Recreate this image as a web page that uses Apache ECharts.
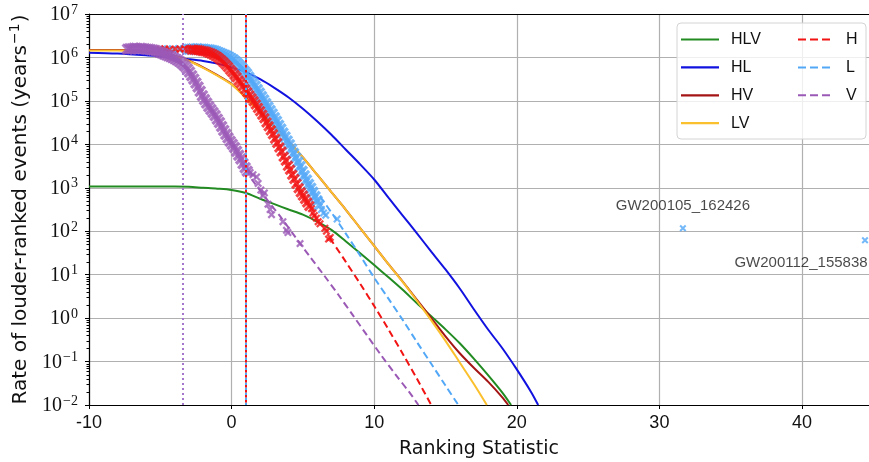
<!DOCTYPE html>
<html>
<head>
<meta charset="utf-8">
<script src="https://cdn.jsdelivr.net/npm/echarts@6/dist/echarts.min.js"></script>
<style>
  html, body { margin: 0; padding: 0; background: #fff; }
  #chart { width: 869px; height: 462px; }
</style>
</head>
<body>
<div id="chart"></div>
<script>
// Axis ranges and tick labels
const xRange = [-10, 44.7];
const xTicks = [-10, 0, 10, 20, 30, 40];
const yRange = [1e-2, 1e7];

// Background-rate fits per detector network: [ranking statistic, rate (1/yr)]
const hlvRate = [[-10,1070],[-6,1070],[-4,1070],[-3,1050],[-2,1000],[-1,955],[0,890],[1,760],[2,560],[3,420],[4,316],[5,240],[6,166],[7,107],[8,59],[9,31.6],[10,16.6],[11,8.7],[12,4.47],[13,2.19],[14,1.1],[15,0.55],[16,0.263],[17,0.115],[18,0.048],[19,0.019],[19.6,0.01]];
const hlRate = [[-10,1.29e6],[-8,1.23e6],[-6,1.12e6],[-5,1.05e6],[-4,9.8e5],[-3,9.1e5],[-2,8.3e5],[-1,7.2e5],[0,5.9e5],[1,4.57e5],[2,3.16e5],[3,2.0e5],[4,1.2e5],[5,6.6e4],[6,3.4e4],[7,1.66e4],[8,7.6e3],[9,3.5e3],[10,1.55e3],[11,590],[12,229],[13,89],[14,34],[15,13.2],[16,4.8],[17,1.58],[18,0.54],[19,0.2],[20,0.066],[21,0.02],[21.5,0.01]];
const hvRate = [[-10,1.48e6],[-8,1.48e6],[-6,1.41e6],[-5,1.29e6],[-4,1.1e6],[-3,8.5e5],[-2,5.9e5],[-1,3.9e5],[0,2.45e5],[1,1.2e5],[2,5.6e4],[3,2.55e4],[4,1.17e4],[5,5.0e3],[6,2.0e3],[7,790],[8,316],[9,120],[10,46],[11,17.4],[12,6.9],[13,2.63],[14,1.0],[15,0.38],[16,0.155],[17,0.071],[18,0.034],[19,0.0148],[19.4,0.01]];
const lvRate = [[-10,1.45e6],[-8,1.45e6],[-6,1.38e6],[-5,1.26e6],[-4,1.05e6],[-3,8.3e5],[-2,5.75e5],[-1,3.8e5],[0,2.4e5],[1,1.17e5],[2,5.5e4],[3,2.5e4],[4,1.15e4],[5,5.0e3],[6,2.0e3],[7,790],[8,316],[9,120],[10,46],[11,17.4],[12,6.8],[13,2.5],[14,0.89],[15,0.30],[16,0.095],[17,0.030],[17.9,0.01]];

// Single-detector extrapolations beyond the loudest triggers
const hTail = [[6.9,69],[8,20],[9,6.3],[10,1.9],[11,0.55],[12,0.151],[13,0.04],[14,0.01]];
const lTail = [[6.2,630],[7,270],[8,89],[9,28],[10,8.5],[11,2.8],[12,0.91],[13,0.28],[14,0.089],[15,0.028],[15.9,0.01]];
const vTail = [[1.4,1580],[2.5,525],[3.5,200],[4.5,71],[5.5,25.7],[6.5,9.5],[7.5,3.4],[8.5,1.17],[9.5,0.40],[10.5,0.138],[11.5,0.05],[12.5,0.019],[13.1,0.01]];

// Single-detector triggers, densely populated part: [ranking statistic, rate of louder triggers]
const hTriggers = [[-2.8,1.51e6],[-2.65,1.51e6],[-2.5,1.48e6],[-2.35,1.48e6],[-2.2,1.45e6],[-2.05,1.41e6],[-1.9,1.38e6],[-1.75,1.35e6],[-1.6,1.29e6],[-1.45,1.23e6],[-1.3,1.17e6],[-1.15,1.10e6],[-1.0,1.02e6],[-0.85,9.3e5],[-0.7,8.5e5],[-0.55,7.6e5],[-0.4,6.8e5],[-0.25,6.0e5],[-0.1,5.2e5],[0.05,4.6e5],[0.2,4.0e5],[0.35,3.5e5],[0.5,2.95e5],[0.65,2.57e5],[0.8,2.19e5],[0.95,1.86e5],[1.1,1.58e5],[1.25,1.35e5],[1.4,1.15e5],[1.55,9.8e4],[1.7,8.3e4],[1.85,6.9e4],[2.0,5.8e4],[2.15,4.8e4],[2.3,4.0e4],[2.45,3.2e4],[2.6,2.6e4],[2.75,2.1e4],[2.9,1.7e4],[3.05,1.35e4],[3.2,1.07e4],[3.35,8.5e3],[3.5,6.8e3],[3.65,5.2e3],[3.8,4.2e3],[3.95,3.2e3],[4.1,2.6e3],[4.25,2.0e3],[4.4,1.6e3],[4.55,1.23e3],[4.7,980],[4.85,790],[5.0,660],[5.15,550],[5.3,460],[5.45,380]];
const lTriggers = [[-3.0,1.55e6],[-2.85,1.55e6],[-2.7,1.58e6],[-2.55,1.55e6],[-2.4,1.58e6],[-2.25,1.55e6],[-2.1,1.55e6],[-1.95,1.55e6],[-1.8,1.51e6],[-1.65,1.51e6],[-1.5,1.48e6],[-1.35,1.45e6],[-1.2,1.41e6],[-1.05,1.35e6],[-0.9,1.29e6],[-0.75,1.23e6],[-0.6,1.17e6],[-0.45,1.12e6],[-0.3,1.07e6],[-0.15,1.0e6],[0.0,9.3e5],[0.15,8.7e5],[0.3,7.9e5],[0.45,7.1e5],[0.6,6.3e5],[0.75,5.5e5],[0.9,4.8e5],[1.05,4.2e5],[1.2,3.55e5],[1.35,3.0e5],[1.5,2.57e5],[1.65,2.19e5],[1.8,1.82e5],[1.95,1.51e5],[2.1,1.26e5],[2.25,1.05e5],[2.4,8.7e4],[2.55,7.2e4],[2.7,6.0e4],[2.85,5.0e4],[3.0,4.1e4],[3.15,3.4e4],[3.3,2.75e4],[3.45,2.24e4],[3.6,1.82e4],[3.75,1.48e4],[3.9,1.2e4],[4.05,9.8e3],[4.2,7.8e3],[4.35,6.2e3],[4.5,4.9e3],[4.65,3.9e3],[4.8,3.1e3],[4.95,2.4e3],[5.1,1.9e3],[5.25,1.51e3],[5.4,1.2e3],[5.55,980],[5.7,790],[5.85,630],[6.0,500],[6.15,400]];
const vTriggers = [[-7.3,1.55e6],[-7.15,1.58e6],[-7.0,1.58e6],[-6.85,1.62e6],[-6.7,1.62e6],[-6.55,1.58e6],[-6.4,1.62e6],[-6.25,1.58e6],[-6.1,1.58e6],[-5.95,1.55e6],[-5.8,1.55e6],[-5.65,1.51e6],[-5.5,1.48e6],[-5.35,1.45e6],[-5.2,1.38e6],[-5.05,1.32e6],[-4.9,1.26e6],[-4.75,1.2e6],[-4.6,1.15e6],[-4.45,1.10e6],[-4.3,1.05e6],[-4.15,1.0e6],[-4.0,9.5e5],[-3.85,8.9e5],[-3.7,8.3e5],[-3.55,7.6e5],[-3.4,6.9e5],[-3.25,6.2e5],[-3.1,5.4e5],[-2.95,4.6e5],[-2.8,3.8e5],[-2.65,3.16e5],[-2.5,2.57e5],[-2.35,2.09e5],[-2.2,1.66e5],[-2.05,1.32e5],[-1.9,1.07e5],[-1.75,8.9e4],[-1.6,7.4e4],[-1.45,6.3e4],[-1.3,5.4e4],[-1.15,4.6e4],[-1.0,3.8e4],[-0.85,3.16e4],[-0.7,2.57e4],[-0.55,2.09e4],[-0.4,1.7e4],[-0.25,1.41e4],[-0.1,1.17e4],[0.05,1.0e4],[0.2,8.5e3],[0.35,6.9e3],[0.5,5.6e3],[0.65,4.6e3],[0.8,3.6e3],[0.95,2.9e3],[1.1,2.4e3]];

// Isolated triggers away from the dense bands
const hTriggersSparse = [[-5.0,1.55e6],[-4.7,1.58e6],[-4.35,1.52e6],[-3.95,1.57e6],[-3.6,1.55e6],[-3.3,1.59e6],[-3.05,1.53e6],
  [5.6,330],[5.7,263],[5.8,229],[5.95,200],[6.07,166],[6.2,148],[6.54,117],[6.65,100],[6.8,66],[6.92,72]];
const lTriggersSparse = [[-4.5,1.58e6],[-4.1,1.55e6],[-3.7,1.6e6],[-3.35,1.56e6],
  [6.3,316],[6.45,263],[6.6,234],[7.4,191]];
const vTriggersSparse = [[1.3,2.24e3],[1.5,2.0e3],[1.75,1.78e3],[1.86,1.26e3],[2.05,890],[2.2,660],[2.3,760],[2.55,420],[2.7,316],[2.8,240],[3.6,166],[3.85,105],[3.95,93],[4.8,52]];

// Single-detector trigger thresholds on the ranking statistic
const thresholdH = 1.0;
const thresholdL = 1.0;
const thresholdV = -3.45;

// Named candidate events
const eventNames = ['GW200105_162426', 'GW200112_155838'];
const eventStat = [31.65, 44.42];
const eventRate = [117, 62];

const colors = {
  HLV: '#228b22', HL: '#1212e0', HV: '#a51414', LV: '#fbc02d',
  H: '#f21313', L: '#52a8f7', V: '#9b59b6'
};

const crossSymbol = 'path://M0,2 L2,0 L5,3 L8,0 L10,2 L7,5 L10,8 L8,10 L5,7 L2,10 L0,8 L3,5 Z';
const dashIcon = 'path://M0,0h8v2h-8z M12,0h8v2h-8z M24,0h8v2h-8z';
const gridColor = '#b0b0b0';
const ink = '#111';

// Minor ticks of the log axis at 2..9 x 10^n
const minorTickRates = [];
for (let e = -2; e < 7; e++) {
  for (let m = 2; m <= 9; m++) minorTickRates.push(m * Math.pow(10, e));
}

function powerLabel(v) {
  const e = Math.round(Math.log10(v));
  return '{b|10}{e|' + (e < 0 ? '\u2212' + (-e) : e) + '}';
}

function solidLine(name, data) {
  return {
    name, type: 'line', data, smooth: 0.3, symbol: 'none', showSymbol: false,
    z: 2, lineStyle: { color: colors[name], width: 2 }, itemStyle: { color: colors[name] }
  };
}
function dashedLine(name, data, threshold, thresholdStyle) {
  return {
    name, type: 'line', data, smooth: 0.3, symbol: 'none', showSymbol: false,
    z: 2, lineStyle: { color: colors[name], width: 2, type: [7, 4] }, itemStyle: { color: colors[name] },
    markLine: {
      silent: true, symbol: 'none', label: { show: false }, animation: false,
      lineStyle: thresholdStyle,
      data: [{ xAxis: threshold }]
    }
  };
}
function triggerScatter(key, data, size, z) {
  return {
    name: key + ' triggers', type: 'scatter', data, symbol: crossSymbol, symbolSize: size,
    z, itemStyle: { color: colors[key] }, silent: true
  };
}

const eventLabelLayout = [
  { position: 'top', distance: 11, offset: [0, 0] },
  { position: 'bottom', distance: 12, offset: [-64, 0] }
];

const legendText = { fontFamily: 'Liberation Sans', fontSize: 16, color: ink, lineHeight: 18 };

const chart = echarts.init(document.getElementById('chart'), null, { renderer: 'canvas' });

const option = {
  animation: false,
  backgroundColor: '#fff',
  grid: { left: 89, right: 0, top: 14, bottom: 57, containLabel: false, outerBoundsMode: 'none' },
  graphic: [{
    type: 'rect', z: 3, silent: true,
    shape: { x: 677, y: 23, width: 189, height: 116, r: 4 },
    style: { fill: 'rgba(255,255,255,0.8)', stroke: '#d4d4d4', lineWidth: 1 }
  }],
  legend: [
    {
      data: ['HLV', 'HL', 'HV', 'LV'], orient: 'vertical', left: 681, top: 30.5, padding: 0,
      icon: 'rect', itemWidth: 38, itemHeight: 2.2, itemGap: 9.9, selectedMode: false, z: 4,
      textStyle: Object.assign({ padding: [0, 0, 0, 7] }, legendText)
    },
    {
      data: ['H', 'L', 'V'], orient: 'vertical', left: 798, top: 30.5, padding: 0,
      icon: dashIcon, itemWidth: 32, itemHeight: 2.2, itemGap: 9.9, selectedMode: false, z: 4,
      textStyle: Object.assign({ padding: [0, 0, 0, 11] }, legendText)
    }
  ],
  xAxis: [
    {
      type: 'value', position: 'bottom', min: xRange[0], max: xRange[1], interval: 10,
      axisLine: { show: true, onZero: false, lineStyle: { color: '#000', width: 1.2 } },
      axisTick: { show: true, length: 4, customValues: xTicks, lineStyle: { color: '#000', width: 1 } },
      axisLabel: {
        customValues: xTicks, margin: 9, color: ink, fontFamily: 'Liberation Sans', fontSize: 18,
        formatter: v => String(v)
      },
      splitLine: { show: true, lineStyle: { color: gridColor, width: 1.2 } },
      name: 'Ranking Statistic', nameLocation: 'middle', nameGap: 35,
      nameTextStyle: { fontFamily: 'DejaVu Sans', fontSize: 19, color: ink, verticalAlign: 'top' }
    },
    {
      type: 'value', position: 'top', min: xRange[0], max: xRange[1], interval: 10,
      axisLine: { show: true, onZero: false, lineStyle: { color: '#000', width: 1.2 } },
      axisTick: { show: false }, axisLabel: { show: false }, splitLine: { show: false }
    }
  ],
  yAxis: {
    type: 'log', logBase: 10, min: yRange[0], max: yRange[1], splitNumber: 9,
    axisLine: { show: true, onZero: false, lineStyle: { color: '#000', width: 1.2 } },
    axisTick: { show: true, length: 4, lineStyle: { color: '#000', width: 1 } },
    minorTick: { show: false },
    axisLabel: {
      margin: 11, formatter: powerLabel,
      rich: {
        b: { fontFamily: 'Liberation Serif', fontSize: 20, color: ink, verticalAlign: 'bottom', lineHeight: 22 },
        e: { fontFamily: 'Liberation Serif', fontSize: 14, color: ink, verticalAlign: 'bottom', lineHeight: 22, padding: [0, 0, 8, 1] }
      }
    },
    splitLine: { show: true, lineStyle: { color: gridColor, width: 1.2 } },
    name: '{t|Rate of louder-ranked events (years}{s|\u22121}{t|)}',
    nameLocation: 'middle', nameRotate: 90, nameGap: 56,
    nameTextStyle: {
      rich: {
        t: { fontFamily: 'DejaVu Sans', fontSize: 20, color: ink, verticalAlign: 'bottom', lineHeight: 24 },
        s: { fontFamily: 'DejaVu Sans', fontSize: 14, color: ink, verticalAlign: 'bottom', lineHeight: 24, padding: [0, 1, 9, 1] }
      }
    }
  },
  series: [
    {
      type: 'custom', silent: true, z: 6, clip: false,
      data: minorTickRates.map(v => [xRange[0], v]),
      renderItem: (params, api) => {
        const p = api.coord([api.value(0), api.value(1)]);
        const y = Math.round(p[1]) + 0.5;
        return { type: 'line', shape: { x1: p[0] - 2.5, y1: y, x2: p[0], y2: y }, style: { stroke: '#000', lineWidth: 1 } };
      }
    },
    solidLine('HLV', hlvRate),
    solidLine('HL', hlRate),
    solidLine('HV', hvRate),
    solidLine('LV', lvRate),
    dashedLine('L', lTail, thresholdL, { color: colors.L, width: 2, type: [2.5, 2.5] }),
    dashedLine('H', hTail, thresholdH, { color: colors.H, width: 2, type: [2.5, 2.5], dashOffset: 2.5 }),
    dashedLine('V', vTail, thresholdV, { color: '#a476cc', width: 2, type: [2, 3] }),
    triggerScatter('L', lTriggers, 12, 3),
    triggerScatter('L', lTriggersSparse, 8, 3),
    triggerScatter('H', hTriggers, 11, 3),
    triggerScatter('H', hTriggersSparse, 8, 3),
    triggerScatter('V', vTriggers, 12, 3),
    triggerScatter('V', vTriggersSparse, 8, 3),
    {
      name: 'Events', type: 'scatter', symbol: crossSymbol, symbolSize: 7, z: 4, silent: true,
      itemStyle: { color: colors.L },
      data: eventNames.map((n, i) => ({
        name: n, value: [eventStat[i], eventRate[i]],
        label: Object.assign({ show: true }, eventLabelLayout[i])
      })),
      label: { show: true, formatter: '{b}', fontFamily: 'Liberation Sans', fontSize: 15, color: '#1a1a1a' }
    }
  ]
};

chart.setOption(option);
</script>
</body>
</html>
